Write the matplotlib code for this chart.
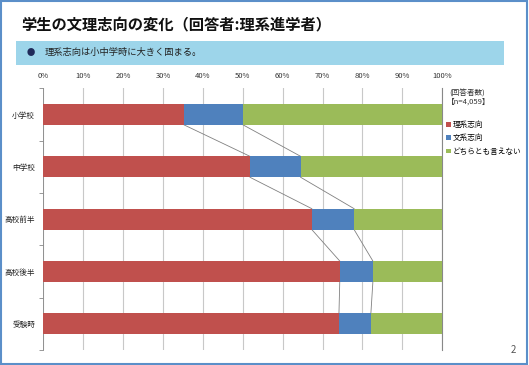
import numpy as np
import matplotlib
matplotlib.use("Agg")
import matplotlib.pyplot as plt
from matplotlib.patches import Rectangle

plt.rcParams['font.family'] = ['Noto Sans CJK JP', 'DejaVu Sans']

# ===================== DATA =====================
categories = ["小学校", "中学校", "高校前半", "高校後半", "受験時"]
rikei = [35.3, 51.8, 67.3, 74.3, 74.1]      # 理系志向
bunkei = [14.8, 12.7, 10.6, 8.3, 8.0]       # 文系志向
dochira = [49.9, 35.5, 22.1, 17.4, 17.9]    # どちらとも言えない
series_names = ["理系志向", "文系志向", "どちらとも言えない"]
colors = ["#C0504D", "#4F81BD", "#9BBB59"]
title = "学生の文理志向の変化（回答者:理系進学者）"
banner = "理系志向は小中学時に大きく固まる。"
n_label = ["(回答者数)", "【n=4,059】"]
# ================================================

W, H = 529, 365
fig = plt.figure(figsize=(W / 100, H / 100), dpi=100)

# slide border
fig.patches.append(Rectangle((0.002, 0.003), 0.995, 0.994, transform=fig.transFigure,
                             fill=False, edgecolor="#5B8FC9", linewidth=1.5))

fig.text(21 / W, 1 - 24 / H, title, fontsize=11, fontweight="bold",
         va="center", ha="left", color="#111111")

# banner
fig.patches.append(Rectangle((16 / W, 1 - 64.5 / H), 488 / W, 24 / H,
                             transform=fig.transFigure, facecolor="#9DD5EA",
                             edgecolor="none"))
fig.text(31 / W, 1 - 52.5 / H, "●", fontsize=6, color="#1F2A5A",
         va="center", ha="center")
fig.text(45 / W, 1 - 52.5 / H, banner, fontsize=6.7, color="#222222",
         va="center", ha="left")

ax = fig.add_axes([43.3 / W, 1 - 350 / H, 399 / W, (350 - 88.3) / H])

y = np.arange(len(categories))
h = 0.4
left = np.zeros(len(categories))
handles = []
for vals, name, c in zip([rikei, bunkei, dochira], series_names, colors):
    b = ax.barh(y, vals, left=left, height=h, color=c, label=name, zorder=3)
    handles.append(b)
    left = left + np.array(vals)

# connector lines between bars
cum1 = np.array(rikei)
cum2 = np.array(rikei) + np.array(bunkei)
for cum in (cum1, cum2):
    for i in range(len(categories) - 1):
        ax.plot([cum[i], cum[i + 1]], [y[i] + h / 2, y[i + 1] - h / 2],
                color="#808080", linewidth=0.6, zorder=2)

ax.set_xlim(0, 100)
ax.set_ylim(len(categories) - 0.5, -0.5)
ax.set_xticks(np.arange(0, 101, 10))
ax.set_xticklabels([f"{v}%" for v in range(0, 101, 10)], fontsize=5.5, color="#333333")
ax.xaxis.tick_top()
ax.tick_params(axis="x", length=0, pad=6)
ax.grid(axis="x", color="#C8C8C8", linewidth=0.8, zorder=0)

ax.set_yticks(y)
ax.set_yticklabels(categories, fontsize=5.5, color="#222222")
ax.set_yticks(np.arange(-0.5, len(categories), 1), minor=True)
ax.tick_params(axis="y", which="major", length=0, pad=6)
ax.tick_params(axis="y", which="minor", length=3, color="#888888", width=0.6)

for s in ("top", "bottom"):
    ax.spines[s].set_visible(False)
ax.spines["left"].set_color("#888888")
ax.spines["left"].set_linewidth(0.6)
ax.spines["right"].set_color("#888888")
ax.spines["right"].set_linewidth(0.8)

fig.text(449 / W, 1 - 94 / H, n_label[0], fontsize=5.5, color="#333333", va="center")
fig.text(447 / W, 1 - 102 / H, n_label[1], fontsize=5.5, color="#333333", va="center")

fig.legend(handles=handles, labels=series_names, loc="upper left",
           bbox_to_anchor=(446 / W, 1 - 121 / H), frameon=False, fontsize=5.5,
           handlelength=0.6, handleheight=0.6, handletextpad=0.3,
           labelspacing=0.7, borderpad=0, borderaxespad=0)

fig.text(513 / W, 1 - 350 / H, "2", fontsize=7, color="#555555", va="center", ha="center")

fig.savefig("out.png", dpi=100)
